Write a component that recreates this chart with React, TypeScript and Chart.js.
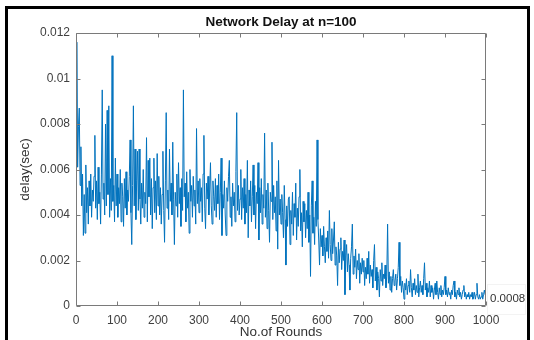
import React, { useEffect, useRef } from "react";
import { Chart, registerables } from "chart.js";

Chart.register(...registerables);

const delay: number[] = [
  // 0 - 98
  0.0068, 0.0116, 0.0061, 0.0079, 0.0087, 0.0053, 0.0070, 0.0044, 0.0058, 0.0031,
  0.0049, 0.0032, 0.0062, 0.0041, 0.0052, 0.0036, 0.0055, 0.0044, 0.0058, 0.0039,
  0.0051, 0.0046, 0.0057, 0.0075, 0.0043, 0.0055, 0.0038, 0.0061, 0.0045, 0.0050,
  0.0036, 0.0058, 0.0095, 0.0047, 0.0054, 0.0040, 0.0080, 0.0044, 0.0086, 0.0049,
  0.0088, 0.0039, 0.0056, 0.0042, 0.0110, 0.0046, 0.0053, 0.0037, 0.0065, 0.0044,
  // 100 - 198
  0.0058, 0.0039, 0.0052, 0.0045, 0.0060, 0.0037, 0.0054, 0.0048, 0.0035, 0.0056,
  0.0043, 0.0059, 0.0040, 0.0051, 0.0046, 0.0057, 0.0073, 0.0041, 0.0027, 0.0053,
  0.0088, 0.0044, 0.0069, 0.0038, 0.0055, 0.0068, 0.0042, 0.0069, 0.0047, 0.0036,
  0.0054, 0.0043, 0.0060, 0.0039, 0.0050, 0.0045, 0.0074, 0.0037, 0.0064, 0.0048,
  0.0065, 0.0040, 0.0056, 0.0034, 0.0052, 0.0065, 0.0041, 0.0055, 0.0038, 0.0067,
  // 200 - 298
  0.0044, 0.0057, 0.0040, 0.0052, 0.0036, 0.0049, 0.0068, 0.0042, 0.0028, 0.0055,
  0.0085, 0.0043, 0.0051, 0.0038, 0.0069, 0.0046, 0.0054, 0.0040, 0.0072, 0.0047,
  0.0027, 0.0050, 0.0044, 0.0058, 0.0039, 0.0063, 0.0045, 0.0052, 0.0035, 0.0056,
  0.0042, 0.0095, 0.0048, 0.0054, 0.0037, 0.0059, 0.0043, 0.0050, 0.0032, 0.0060,
  0.0046, 0.0053, 0.0039, 0.0057, 0.0044, 0.0051, 0.0036, 0.0078, 0.0045, 0.0055,
  // 300 - 398
  0.0041, 0.0056, 0.0046, 0.0052, 0.0037, 0.0058, 0.0075, 0.0043, 0.0034, 0.0054,
  0.0047, 0.0057, 0.0040, 0.0051, 0.0063, 0.0044, 0.0036, 0.0055, 0.0048, 0.0042,
  0.0056, 0.0039, 0.0053, 0.0045, 0.0058, 0.0038, 0.0050, 0.0065, 0.0031, 0.0049,
  0.0043, 0.0055, 0.0040, 0.0031, 0.0052, 0.0046, 0.0057, 0.0064, 0.0039, 0.0048,
  0.0035, 0.0054, 0.0044, 0.0050, 0.0037, 0.0059, 0.0085, 0.0042, 0.0053, 0.0040,
  // 400 - 498
  0.0047, 0.0060, 0.0038, 0.0052, 0.0043, 0.0056, 0.0036, 0.0049, 0.0041, 0.0064,
  0.0030, 0.0051, 0.0044, 0.0055, 0.0037, 0.0048, 0.0062, 0.0040, 0.0053, 0.0034,
  0.0050, 0.0045, 0.0063, 0.0029, 0.0052, 0.0041, 0.0056, 0.0036, 0.0049, 0.0043,
  0.0076, 0.0039, 0.0051, 0.0034, 0.0054, 0.0042, 0.0028, 0.0050, 0.0046, 0.0072,
  0.0038, 0.0053, 0.0041, 0.0048, 0.0033, 0.0055, 0.0025, 0.0064, 0.0040, 0.0047,
  // 500 - 598
  0.0036, 0.0049, 0.0041, 0.0030, 0.0053, 0.0038, 0.0018, 0.0044, 0.0035, 0.0047,
  0.0048, 0.0027, 0.0042, 0.0036, 0.0050, 0.0031, 0.0045, 0.0039, 0.0054, 0.0029,
  0.0043, 0.0035, 0.0048, 0.0060, 0.0033, 0.0041, 0.0026, 0.0046, 0.0037, 0.0045,
  0.0030, 0.0042, 0.0034, 0.0050, 0.0028, 0.0040, 0.0013, 0.0044, 0.0055, 0.0032,
  0.0039, 0.0027, 0.0046, 0.0035, 0.0073, 0.0038, 0.0029, 0.0018, 0.0034, 0.0026,
  // 600 - 698
  0.0031, 0.0022, 0.0035, 0.0026, 0.0019, 0.0030, 0.0024, 0.0033, 0.0021, 0.0042,
  0.0027, 0.0020, 0.0034, 0.0023, 0.0029, 0.0037, 0.0018, 0.0026, 0.0022, 0.0009,
  0.0028, 0.0019, 0.0025, 0.0030, 0.0016, 0.0024, 0.0020, 0.0029, 0.0005, 0.0022,
  0.0027, 0.0015, 0.0023, 0.0018, 0.0007, 0.0021, 0.0026, 0.0036, 0.0014, 0.0022,
  0.0017, 0.0025, 0.0012, 0.0020, 0.0016, 0.0023, 0.0010, 0.0019, 0.0014, 0.0021,
  // 700 - 798
  0.0015, 0.0020, 0.0009, 0.0017, 0.0012, 0.0021, 0.0014, 0.0024, 0.0010, 0.0018,
  0.0013, 0.0016, 0.0008, 0.0020, 0.0027, 0.0011, 0.0017, 0.0007, 0.0015, 0.0012,
  0.0004, 0.0016, 0.0011, 0.0019, 0.0009, 0.0014, 0.0012, 0.0018, 0.0008, 0.0013,
  0.0036, 0.0010, 0.0015, 0.0007, 0.0013, 0.0006, 0.0012, 0.0016, 0.0009, 0.0011,
  0.0014, 0.0007, 0.0012, 0.0017, 0.0028, 0.0009, 0.0013, 0.0006, 0.0011, 0.0008,
  // 800 - 898
  0.0003, 0.0010, 0.0007, 0.0012, 0.0005, 0.0009, 0.0011, 0.0006, 0.0016, 0.0008,
  0.0004, 0.0010, 0.0007, 0.0012, 0.0005, 0.0009, 0.0006, 0.0014, 0.0004, 0.0008,
  0.0011, 0.0006, 0.0009, 0.0005, 0.0012, 0.0019, 0.0007, 0.0010, 0.0004, 0.0008,
  0.0006, 0.0011, 0.0004, 0.0009, 0.0006, 0.0008, 0.0003, 0.0007, 0.0010, 0.0005,
  0.0011, 0.0006, 0.0003, 0.0008, 0.0005, 0.0009, 0.0004, 0.0007, 0.0005, 0.0008,
  // 900 - 1000
  0.0013, 0.0005, 0.0007, 0.0004, 0.0008, 0.0005, 0.0006, 0.0003, 0.0007, 0.0005,
  0.0009, 0.0011, 0.0004, 0.0006, 0.0003, 0.0007, 0.0005, 0.0008, 0.0004, 0.0006,
  0.0003, 0.0005, 0.0007, 0.0009, 0.0004, 0.0006, 0.0003, 0.0005, 0.0004, 0.0006,
  0.0003, 0.0005, 0.0004, 0.0006, 0.0003, 0.0004, 0.0006, 0.0003, 0.0005, 0.0010,
  0.0004, 0.0003, 0.0005, 0.0003, 0.0004, 0.0006, 0.0003, 0.0005, 0.0007, 0.0005,
  0.0006,
];

const ROUND_STEP = 2;
const rounds: number[] = delay.map((_, i) => i * ROUND_STEP);

const xTicks: number[] = [0, 100, 200, 300, 400, 500, 600, 700, 800, 900, 1000];
const yTicks: number[] = [0, 0.002, 0.004, 0.006, 0.008, 0.01, 0.012];

const titleText = "Network Delay at n=100";
const xTitle = "No.of Rounds";
const yTitle = "delay(sec)";
const endLabel = "0.0008";

const FONT = '"Liberation Sans", Arial, Helvetica, sans-serif';

const decorPlugin = {
  id: "decor",
  afterDraw(chart: any) {
    const { ctx, chartArea, scales } = chart;
    const { left, right, top, bottom } = chartArea;
    const xs = scales.x;
    const ys = scales.y;
    ctx.save();
    // box
    ctx.strokeStyle = "#7a7a7a";
    ctx.lineWidth = 1;
    const L = Math.round(left) + 0.5;
    const R = Math.round(right) - 0.5;
    const T = Math.round(top) + 0.5;
    const B = Math.round(bottom) - 0.5;
    ctx.beginPath();
    ctx.rect(L, T, R - L, B - T);
    ctx.stroke();
    // inward ticks
    const tl = 4;
    ctx.beginPath();
    xTicks.forEach((v) => {
      const px = Math.round(xs.getPixelForValue(v)) + 0.5;
      ctx.moveTo(px, B);
      ctx.lineTo(px, B - tl);
      ctx.moveTo(px, T);
      ctx.lineTo(px, T + tl);
    });
    yTicks.forEach((v) => {
      const py = Math.round(ys.getPixelForValue(v)) + 0.5;
      ctx.moveTo(L, py);
      ctx.lineTo(L + tl, py);
      ctx.moveTo(R, py);
      ctx.lineTo(R - tl, py);
    });
    ctx.stroke();

    // title
    ctx.fillStyle = "#111";
    ctx.font = `bold 13.5px ${FONT}`;
    ctx.textAlign = "center";
    ctx.textBaseline = "middle";
    ctx.fillText(titleText, (left + right) / 2, 22);

    // axis titles
    ctx.fillStyle = "#333";
    ctx.font = `13.5px ${FONT}`;
    ctx.fillText(xTitle, (left + right) / 2, 332);
    ctx.save();
    ctx.translate(25, (top + bottom) / 2);
    ctx.rotate(-Math.PI / 2);
    ctx.fillText(yTitle, 0, 0);
    ctx.restore();

    // end-value label
    ctx.strokeStyle = "#f3f3f3";
    ctx.strokeRect(487.5, 284.5, 38, 30);
    ctx.fillStyle = "#333";
    ctx.font = `11.5px ${FONT}`;
    ctx.textAlign = "left";
    ctx.fillText(endLabel, 490, 299);
    ctx.restore();
  },
};

export default function App() {
  const ref = useRef<HTMLCanvasElement | null>(null);

  useEffect(() => {
    if (!ref.current) return;
    const chart = new Chart(ref.current, {
      type: "line",
      data: {
        datasets: [
          {
            data: rounds.map((r, i) => ({ x: r, y: delay[i] })),
            borderColor: "#0072BD",
            borderWidth: 1,
            pointRadius: 0,
            tension: 0,
            fill: false,
          },
        ],
      },
      options: {
        animation: false,
        responsive: false,
        devicePixelRatio: 1,
        layout: { padding: { left: 0, right: 48, top: 33, bottom: 0 } },
        plugins: {
          legend: { display: false },
          tooltip: { enabled: false },
          title: { display: false },
        },
        scales: {
          x: {
            type: "linear",
            min: 0,
            max: 1000,
            grid: { display: false, drawTicks: false },
            border: { display: false },
            afterBuildTicks: (axis: any) => {
              axis.ticks = xTicks.map((v) => ({ value: v }));
            },
            afterFit: (axis: any) => {
              axis.height = 34;
            },
            ticks: {
              padding: 7,
              color: "#404040",
              font: { family: FONT, size: 12 },
              maxRotation: 0,
              autoSkip: false,
              callback: (v: any) => String(v),
            },
          },
          y: {
            type: "linear",
            min: 0,
            max: 0.012,
            grid: { display: false, drawTicks: false },
            border: { display: false },
            afterBuildTicks: (axis: any) => {
              axis.ticks = yTicks.map((v) => ({ value: v }));
            },
            afterFit: (axis: any) => {
              axis.width = 76;
            },
            ticks: {
              padding: 6,
              color: "#404040",
              font: { family: FONT, size: 12 },
              autoSkip: false,
              callback: (v: any) => String(+Number(v).toFixed(3)),
            },
          },
        },
      },
      plugins: [decorPlugin],
    });
    return () => chart.destroy();
  }, []);

  return (
    <div
      style={{
        position: "fixed",
        left: 0,
        top: 0,
        width: 534,
        height: 340,
        background: "#fff",
        overflow: "hidden",
      }}
    >
      <div
        style={{
          position: "absolute",
          left: 5,
          top: 6,
          width: 525,
          height: 400,
          border: "3px solid #000",
          boxSizing: "border-box",
        }}
      />
      <canvas
        ref={ref}
        width={534}
        height={340}
        style={{ position: "absolute", left: 0, top: 0, width: 534, height: 340 }}
      />
    </div>
  );
}
